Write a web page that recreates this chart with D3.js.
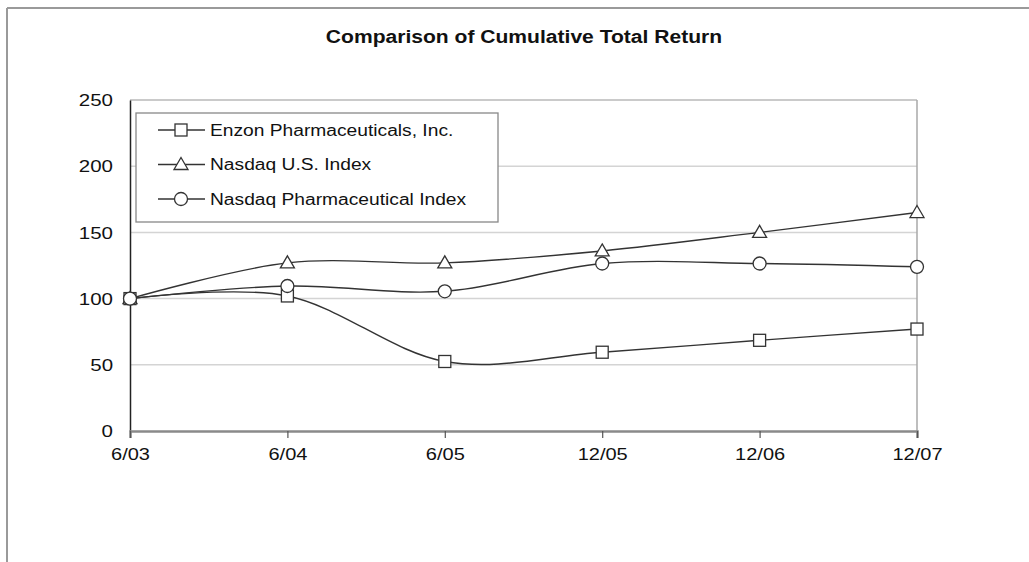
<!DOCTYPE html>
<html lang="en">
<head>
    <meta charset="utf-8">
    <title>index.html</title>
    <script type="text/javascript" src="https://cdnjs.cloudflare.com/ajax/libs/d3/7.8.5/d3.min.js"></script>
    <style>
      body { margin: 0; background: #fff; }
      text { font-family: "Liberation Sans", Arial, sans-serif; fill: #111; }
    </style>
</head>
<body>
    <script type="text/javascript">
      //chart data
      var periods = ["6/03", "6/04", "6/05", "12/05", "12/06", "12/07"];
      var enzon   = [100, 102, 52.5, 59.5, 68.5, 77];
      var nasdaqUS = [100, 127, 127, 136, 150, 165];
      var nasdaqPharma = [100, 109.5, 105.5, 126.5, 126.5, 124];
      var yTicks = [0, 50, 100, 150, 200, 250];
      var seriesNames = ["Enzon Pharmaceuticals, Inc.", "Nasdaq U.S. Index", "Nasdaq Pharmaceutical Index"];

      var series = [
        {name: seriesNames[0], values: enzon, marker: "square"},
        {name: seriesNames[1], values: nasdaqUS, marker: "triangle"},
        {name: seriesNames[2], values: nasdaqPharma, marker: "circle"}
      ];

      //initialize the dimensions
      var width = 1029, height = 562;
      var plot = {left: 130, right: 917, top: 100, bottom: 431};

      var svg = d3.select("body")
                  .append("svg")
                  .attr("width", width)
                  .attr("height", height);

      //stretch text horizontally like the original rendering
      function widen(sel, k) {
        sel.each(function() {
          var w = this.getComputedTextLength();
          d3.select(this).attr("textLength", w * k).attr("lengthAdjust", "spacingAndGlyphs");
        });
      }

      //outer frame (top and left edges)
      svg.append("line")
         .attr("x1", 7).attr("x2", width).attr("y1", 8).attr("y2", 8)
         .attr("stroke", "#9a9a9a").attr("stroke-width", 2);
      svg.append("line")
         .attr("x1", 7).attr("x2", 7).attr("y1", 8).attr("y2", height)
         .attr("stroke", "#9a9a9a").attr("stroke-width", 2);

      //title
      svg.append("text")
         .attr("x", 524).attr("y", 43)
         .attr("text-anchor", "middle")
         .style("font-size", "18px")
         .style("font-weight", "bold")
         .text("Comparison of Cumulative Total Return")
         .call(widen, 1.17);

      //scales
      var xScale = d3.scalePoint()
                     .domain(periods)
                     .range([plot.left, plot.right]);

      var yScale = d3.scaleLinear()
                     .domain([0, 250])
                     .range([plot.bottom, plot.top]);

      //gridlines
      svg.append("g")
         .selectAll("line")
         .data(yTicks.filter(function(d) { return d > 0; }))
         .enter().append("line")
         .attr("x1", plot.left).attr("x2", plot.right)
         .attr("y1", function(d) { return yScale(d); })
         .attr("y2", function(d) { return yScale(d); })
         .attr("stroke", function(d) { return d === 250 ? "#b8b8b8" : "#d4d4d4"; })
         .attr("stroke-width", 1.5);

      //right edge of plot area
      svg.append("line")
         .attr("x1", plot.right).attr("x2", plot.right)
         .attr("y1", plot.top).attr("y2", plot.bottom)
         .attr("stroke", "#a8a8a8").attr("stroke-width", 1.5);

      //y axis
      var yAxis = d3.axisLeft(yScale).tickValues(yTicks).tickSize(0).tickPadding(17);
      var gy = svg.append("g")
         .attr("transform", "translate(" + plot.left + ",0)")
         .call(yAxis);
      gy.select(".domain").attr("stroke", "#222").attr("stroke-width", 1.5);
      gy.selectAll("text")
        .style("font-size", "16px").attr("fill", "#222")
        .attr("dy", "0.35em")
        .call(widen, 1.28);

      //x axis
      var xAxis = d3.axisBottom(xScale).tickSize(7).tickPadding(11);
      var gx = svg.append("g")
         .attr("transform", "translate(0," + plot.bottom + ")")
         .call(xAxis);
      gx.select(".domain").attr("stroke", "#8a8a8a").attr("stroke-width", 2.5);
      gx.selectAll(".tick line").attr("stroke", "#555").attr("stroke-width", 1.2);
      gx.selectAll("text")
        .style("font-size", "16px").attr("fill", "#222")
        .call(widen, 1.25);

      //markers
      function drawMarker(g, type, x, y) {
        if (type === "square") {
          g.append("rect")
           .attr("x", x - 6).attr("y", y - 6)
           .attr("width", 12).attr("height", 12)
           .attr("fill", "#fff").attr("stroke", "#333").attr("stroke-width", 1.3);
        } else if (type === "triangle") {
          g.append("path")
           .attr("d", "M" + x + "," + (y - 7) + "L" + (x + 7) + "," + (y + 5) + "L" + (x - 7) + "," + (y + 5) + "Z")
           .attr("fill", "#fff").attr("stroke", "#333").attr("stroke-width", 1.3);
        } else {
          g.append("circle")
           .attr("cx", x).attr("cy", y).attr("r", 6.5)
           .attr("fill", "#fff").attr("stroke", "#333").attr("stroke-width", 1.3);
        }
      }

      //smoothed lines
      var line = d3.line()
                   .x(function(d, i) { return xScale(periods[i]); })
                   .y(function(d) { return yScale(d); })
                   .curve(d3.curveCatmullRom.alpha(0));

      [series[1], series[0], series[2]].forEach(function(s) {
        svg.append("path")
           .datum(s.values)
           .attr("d", line)
           .attr("fill", "none")
           .attr("stroke", "#333")
           .attr("stroke-width", 1.4);
      });

      [series[1], series[0], series[2]].forEach(function(s) {
        var g = svg.append("g");
        s.values.forEach(function(v, i) {
          drawMarker(g, s.marker, xScale(periods[i]), yScale(v));
        });
      });

      //legend
      var legend = svg.append("g");
      legend.append("rect")
            .attr("x", 136).attr("y", 113)
            .attr("width", 362).attr("height", 109)
            .attr("fill", "#fff")
            .attr("stroke", "#888").attr("stroke-width", 1.3);

      series.forEach(function(s, i) {
        var cy = 130 + i * 34.5;
        var g = legend.append("g");
        g.append("line")
         .attr("x1", 158).attr("x2", 205).attr("y1", cy).attr("y2", cy)
         .attr("stroke", "#333").attr("stroke-width", 1.4);
        drawMarker(g, s.marker, 181, cy);
        g.append("text")
         .attr("x", 210).attr("y", cy)
         .attr("dy", "0.35em")
         .style("font-size", "16px")
         .text(s.name)
         .call(widen, 1.2);
      });
    </script>
</body>
</html>
